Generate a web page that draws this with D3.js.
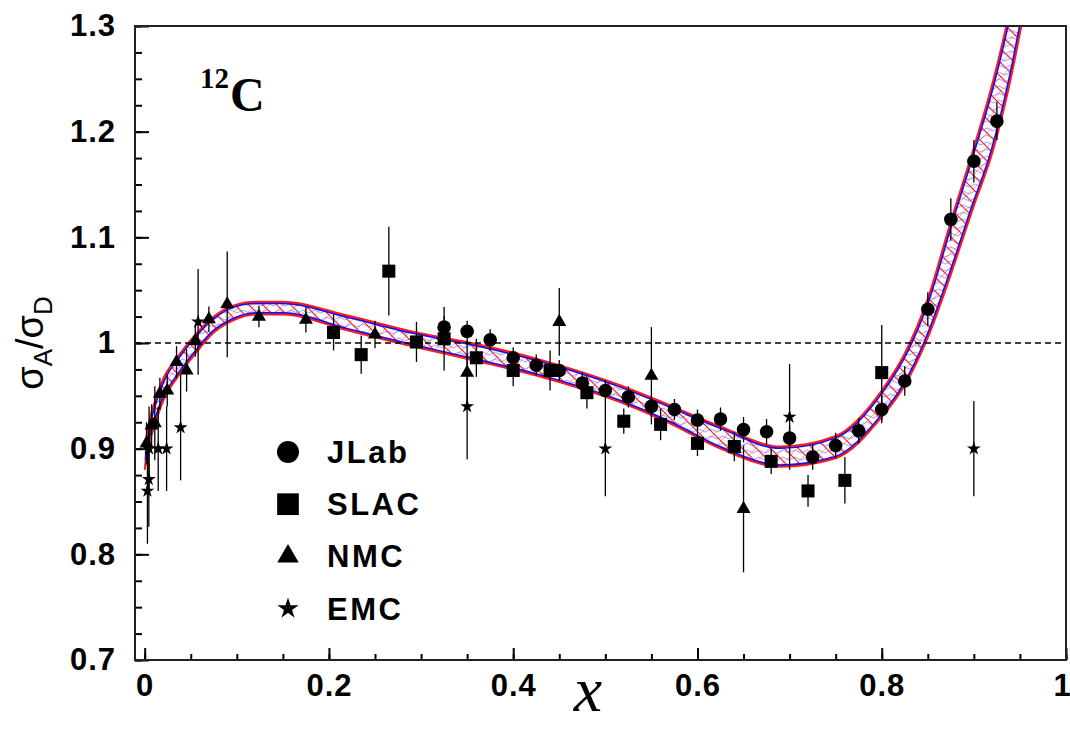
<!DOCTYPE html>
<html>
<head>
<meta charset="utf-8">
<script src="https://cdn.jsdelivr.net/npm/d3@7"></script>
<style>
    html, body { margin: 0; padding: 0; background: #fff; }
    svg { display: block; }
    .tick text { font-family: "Liberation Sans", Arial, sans-serif; font-weight: bold; font-size: 31px; letter-spacing: 1px; fill: #000; }
</style>
</head>
<body>
<svg id="chart" width="1070" height="740"></svg>
<script>
// JLab, SLAC, NMC, EMC points: [x, ratio, error]
var jlab = [
    [0.325, 1.015, 0.010], [0.350, 1.011, 0.010], [0.375, 1.003, 0.010], [0.400, 0.986, 0.010],
    [0.425, 0.979, 0.010], [0.450, 0.974, 0.010], [0.475, 0.962, 0.010], [0.500, 0.955, 0.010],
    [0.525, 0.949, 0.010], [0.550, 0.940, 0.010], [0.575, 0.937, 0.010], [0.600, 0.927, 0.010],
    [0.625, 0.928, 0.011], [0.650, 0.918, 0.012], [0.675, 0.916, 0.012], [0.700, 0.910, 0.012],
    [0.725, 0.892, 0.012], [0.750, 0.903, 0.012], [0.775, 0.917, 0.012], [0.800, 0.937, 0.013],
    [0.825, 0.964, 0.014], [0.850, 1.032, 0.016], [0.875, 1.117, 0.020], [0.900, 1.172, 0.020],
    [0.925, 1.210, 0.018]
];
var slac = [
    [0.205, 1.010, 0.017], [0.235, 0.989, 0.018], [0.265, 1.068, 0.042], [0.295, 1.001, 0.019],
    [0.325, 1.004, 0.030], [0.360, 0.986, 0.018], [0.400, 0.974, 0.015], [0.440, 0.974, 0.019],
    [0.480, 0.953, 0.015], [0.520, 0.926, 0.012], [0.560, 0.923, 0.015], [0.600, 0.905, 0.012],
    [0.640, 0.902, 0.014], [0.680, 0.888, 0.012], [0.720, 0.860, 0.015], [0.760, 0.870, 0.022],
    [0.800, 0.972, 0.045]
];
var nmc = [
    [0.0020, 0.905, 0.020], [0.0075, 0.922, 0.020], [0.0110, 0.924, 0.035], [0.0165, 0.952, 0.015],
    [0.0245, 0.955, 0.015], [0.0346, 0.982, 0.015], [0.0455, 0.974, 0.020], [0.0550, 1.002, 0.015],
    [0.0697, 1.0225, 0.012], [0.0896, 1.0366, 0.050], [0.124, 1.025, 0.010], [0.175, 1.022, 0.012],
    [0.250, 1.008, 0.013], [0.350, 0.972, 0.030], [0.450, 1.020, 0.032], [0.550, 0.969, 0.046],
    [0.650, 0.843, 0.060]
];
var emc = [
    [0.0030, 0.860, 0.050], [0.0045, 0.871, 0.045], [0.0048, 0.900, 0.040], [0.0147, 0.900, 0.040],
    [0.0238, 0.900, 0.040], [0.039, 0.920, 0.050], [0.058, 1.020, 0.050], [0.350, 0.940, 0.050],
    [0.500, 0.900, 0.045], [0.700, 0.930, 0.050], [0.900, 0.900, 0.045]
];

// fit band (lower / upper edge)
var bandX  = [0, 0.005, 0.01, 0.02, 0.035, 0.055, 0.075, 0.095, 0.12, 0.15, 0.22, 0.29, 0.36, 0.43,
              0.516, 0.57, 0.625, 0.69, 0.75, 0.80, 0.825, 0.85, 0.875, 0.90, 0.92, 0.94, 0.96];
var bandLo = [0.880, 0.905, 0.920, 0.945, 0.967, 0.990, 1.010, 1.021, 1.027, 1.027, 1.012, 0.997, 0.983, 0.968,
              0.944, 0.924, 0.900, 0.883, 0.891, 0.930, 0.960, 1.005, 1.065, 1.130, 1.180, 1.250, 1.340];
var bandHi = [0.900, 0.926, 0.942, 0.966, 0.986, 1.008, 1.025, 1.035, 1.039, 1.039, 1.026, 1.011, 0.999, 0.984,
              0.960, 0.941, 0.921, 0.902, 0.912, 0.955, 0.990, 1.042, 1.115, 1.185, 1.245, 1.320, 1.420];

var xTicks = [0, 0.2, 0.4, 0.6, 0.8, 1];
var xTickLabels = ['0', '0.2', '0.4', '0.6', '0.8', '1'];
var yTicks = [0.7, 0.8, 0.9, 1.0, 1.1, 1.2, 1.3];
var yTickLabels = ['0.7', '0.8', '0.9', '1', '1.1', '1.2', '1.3'];
var legendLabels = ['JLab', 'SLAC', 'NMC', 'EMC'];

var svg = d3.select('#chart'),
    plotLeft = 135, plotRight = 1066, plotTop = 26, plotBottom = 660;

var x = d3.scaleLinear().domain([-0.0105, 1]).range([plotLeft, plotRight]),
    y = d3.scaleLinear().domain([0.7, 1.3]).range([plotBottom, plotTop]);

var defs = svg.append('defs');
defs.append('clipPath').attr('id', 'plotClip')
    .append('rect').attr('x', plotLeft).attr('y', plotTop)
    .attr('width', plotRight - plotLeft).attr('height', plotBottom - plotTop);

// red cross hatch
var redPat = defs.append('pattern').attr('id', 'redHatch')
    .attr('patternUnits', 'userSpaceOnUse').attr('width', 14).attr('height', 14);
redPat.append('path').attr('d', 'M0,0 L14,14 M-4,10 L4,18 M10,-4 L18,4')
    .attr('stroke', '#ff2020').attr('stroke-width', 1.2).attr('fill', 'none');
redPat.append('path').attr('d', 'M0,14 L14,0')
    .attr('stroke', '#ff5050').attr('stroke-width', 0.8).attr('fill', 'none').attr('opacity', 0.6);

// blue wavy
var bluePat = defs.append('pattern').attr('id', 'blueWave')
    .attr('patternUnits', 'userSpaceOnUse').attr('width', 12).attr('height', 7);
bluePat.append('path').attr('d', 'M0,3.5 Q3,0.5 6,3.5 T12,3.5')
    .attr('stroke', '#8c8cff').attr('stroke-width', 0.9).attr('fill', 'none');

var bandData = bandX.map(function (d, i) { return [d, bandLo[i], bandHi[i]]; });

var area = d3.area().curve(d3.curveMonotoneX)
    .x(function (d) { return x(d[0]); })
    .y0(function (d) { return y(d[1]); })
    .y1(function (d) { return y(d[2]); });
var loLine = d3.line().curve(d3.curveMonotoneX)
    .x(function (d) { return x(d[0]); })
    .y(function (d) { return y(d[1]); });
var hiLine = d3.line().curve(d3.curveMonotoneX)
    .x(function (d) { return x(d[0]); })
    .y(function (d) { return y(d[2]); });

defs.append('clipPath').attr('id', 'bandClip')
    .append('path').attr('d', area(bandData));

var plot = svg.append('g').attr('clip-path', 'url(#plotClip)');

plot.append('path').attr('d', area(bandData)).attr('fill', 'url(#blueWave)');
plot.append('path').attr('d', area(bandData)).attr('fill', 'url(#redHatch)');

// inner blue edges, clipped to the band interior
var inner = plot.append('g').attr('clip-path', 'url(#bandClip)');
inner.append('path').attr('d', loLine(bandData))
    .attr('fill', 'none').attr('stroke', '#1010ff').attr('stroke-width', 5);
inner.append('path').attr('d', hiLine(bandData))
    .attr('fill', 'none').attr('stroke', '#1010ff').attr('stroke-width', 5);

plot.append('path').attr('d', loLine(bandData))
    .attr('fill', 'none').attr('stroke', '#ff1a1a').attr('stroke-width', 2);
plot.append('path').attr('d', hiLine(bandData))
    .attr('fill', 'none').attr('stroke', '#ff1a1a').attr('stroke-width', 2);

// ratio = 1
plot.append('line')
    .attr('x1', plotLeft).attr('x2', plotRight).attr('y1', y(1)).attr('y2', y(1))
    .attr('stroke', '#000').attr('stroke-width', 1.5).attr('stroke-dasharray', '6,4');

var series = [
    { data: emc, symbol: d3.symbolStar, size: 60 },
    { data: nmc, symbol: d3.symbolTriangle, size: 85 },
    { data: slac, symbol: d3.symbolSquare, size: 170 },
    { data: jlab, symbol: d3.symbolCircle, size: 145 }
];

series.forEach(function (s) {
    var g = plot.append('g');
    g.selectAll('line').data(s.data).enter().append('line')
        .attr('x1', function (d) { return x(d[0]); })
        .attr('x2', function (d) { return x(d[0]); })
        .attr('y1', function (d) { return y(d[1] - d[2]); })
        .attr('y2', function (d) { return y(d[1] + d[2]); })
        .attr('stroke', '#000').attr('stroke-width', 1.3);
    g.selectAll('path').data(s.data).enter().append('path')
        .attr('d', d3.symbol().type(s.symbol).size(s.size))
        .attr('transform', function (d) { return 'translate(' + x(d[0]) + ',' + y(d[1]) + ')'; })
        .attr('fill', '#000');
});

// axes, ticks pointing inward
svg.append('g').attr('transform', 'translate(' + plotLeft + ',0)')
    .call(d3.axisLeft(y).tickValues(d3.range(0.7, 1.3001, 0.025)).tickSize(-7).tickFormat(''))
    .call(function (g) { g.select('.domain').remove(); });
svg.append('g').attr('transform', 'translate(' + plotLeft + ',0)')
    .call(d3.axisLeft(y).tickValues(yTicks).tickSize(-14).tickPadding(19)
        .tickFormat(function (d, i) { return yTickLabels[i]; }))
    .call(function (g) { g.select('.domain').remove(); });

svg.append('g').attr('transform', 'translate(0,' + plotBottom + ')')
    .call(d3.axisBottom(x).tickValues(d3.range(0, 1.0001, 0.05)).tickSize(-6).tickFormat(''))
    .call(function (g) { g.select('.domain').remove(); });
svg.append('g').attr('transform', 'translate(0,' + plotBottom + ')')
    .call(d3.axisBottom(x).tickValues(xTicks).tickSize(-12).tickPadding(14)
        .tickFormat(function (d, i) { return xTickLabels[i]; }))
    .call(function (g) {
        g.select('.domain').remove();
        // last label sits at the window edge
        g.selectAll('.tick text').filter(function (d) { return d === 1; }).attr('dx', -4);
    });

svg.selectAll('.tick line').attr('stroke', '#000').attr('stroke-width', 2);

// frame
svg.append('rect')
    .attr('x', plotLeft).attr('y', plotTop)
    .attr('width', plotRight - plotLeft).attr('height', plotBottom - plotTop)
    .attr('fill', 'none').attr('stroke', '#222').attr('stroke-width', 2);

// nucleus label
var nuc = svg.append('text').attr('x', 200).attr('y', 111)
    .style('font-family', '"Liberation Serif", "Times New Roman", serif').style('font-weight', 'bold');
nuc.append('tspan').text('12').style('font-size', '29px').attr('dy', -23);
nuc.append('tspan').text('C').style('font-size', '48px').attr('dy', 23).attr('dx', 1);

// legend
var legSymbols = [
    { symbol: d3.symbolCircle, size: 380 },
    { symbol: d3.symbolSquare, size: 470 },
    { symbol: d3.symbolTriangle, size: 200 },
    { symbol: d3.symbolStar, size: 140 }
];
var legend = svg.append('g');
legendLabels.forEach(function (label, i) {
    var cy = 452 + i * 52.2;
    legend.append('path')
        .attr('d', d3.symbol().type(legSymbols[i].symbol).size(legSymbols[i].size))
        .attr('transform', 'translate(288,' + cy + ')')
        .attr('fill', '#000');
    legend.append('text').attr('x', 327).attr('y', cy + 11)
        .style('font-family', '"Liberation Sans", Arial, sans-serif')
        .style('font-weight', 'bold').style('font-size', '31px').style('letter-spacing', '2.5px')
        .text(label);
});

// axis titles
svg.append('text').attr('x', 588).attr('y', 711).attr('text-anchor', 'middle')
    .style('font-family', '"Liberation Serif", "Times New Roman", serif')
    .style('font-style', 'italic').style('font-size', '64px')
    .text('x');

var yTitle = svg.append('text')
    .attr('transform', 'translate(43,343) rotate(-90)')
    .attr('text-anchor', 'middle')
    .style('font-family', '"Liberation Sans", Arial, sans-serif').style('font-size', '38px');
yTitle.append('tspan').text('σ');
yTitle.append('tspan').text('A').style('font-size', '26px').attr('dy', 9);
yTitle.append('tspan').text('/').attr('dy', -9);
yTitle.append('tspan').text('σ');
yTitle.append('tspan').text('D').style('font-size', '26px').attr('dy', 9);
</script>
</body>
</html>
